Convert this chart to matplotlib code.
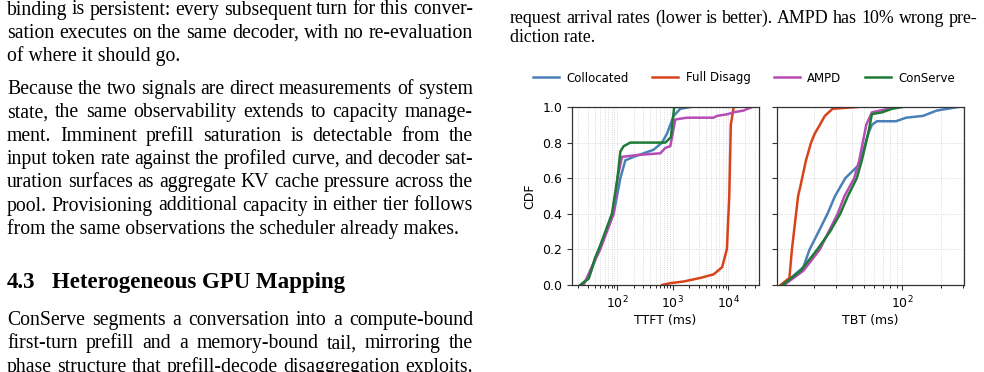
import numpy as np
import matplotlib
matplotlib.use("Agg")
import matplotlib.pyplot as plt
from matplotlib.transforms import IdentityTransform
from matplotlib.ticker import NullFormatter, LogLocator

W, H = 984, 372

# ---- CDF data (latency in ms, cumulative fraction) ----
systems = ["Collocated", "Full Disagg", "AMPD", "ConServe"]
colors = ["#4a80b9", "#d8431c", "#b64cb4", "#1e7b36"]

ttft_collocated_ms = [22, 31, 47, 87, 115, 141, 200, 302, 457, 646, 794, 912, 1047, 1380, 2089]
ttft_collocated_cdf = [0, 0.04, 0.2, 0.4, 0.6, 0.7, 0.72, 0.74, 0.76, 0.8, 0.85, 0.9, 0.95, 0.99, 1.0]
ttft_fulldisagg_ms = [650, 900, 1600, 3200, 5500, 7800, 9500, 10500, 11200, 12600]
ttft_fulldisagg_cdf = [0, 0.01, 0.02, 0.04, 0.06, 0.1, 0.2, 0.5, 0.9, 1.0]
ttft_ampd_ms = [25, 35, 50, 87, 102, 123, 229, 603, 741, 912, 1122, 1820, 5500, 6310, 10000, 12300, 19000, 27000]
ttft_ampd_cdf = [0, 0.1, 0.2, 0.4, 0.6, 0.72, 0.73, 0.74, 0.77, 0.78, 0.93, 0.94, 0.94, 0.95, 0.96, 0.97, 0.98, 1.0]
ttft_conserve_ms = [22, 31, 40, 47, 81, 102, 115, 132, 174, 741, 933, 1072, 1500]
ttft_conserve_cdf = [0, 0.036, 0.15, 0.2, 0.4, 0.6, 0.75, 0.78, 0.8, 0.8, 0.83, 1.0, 1.0]

tbt_collocated_ms = [11.4, 16.6, 18.6, 21.9, 25.7, 29.5, 35.5, 44.7, 49, 53.7, 57.5, 63, 89, 107, 145, 186, 275]
tbt_collocated_cdf = [0, 0.1, 0.2, 0.3, 0.4, 0.5, 0.6, 0.67, 0.75, 0.85, 0.9, 0.92, 0.92, 0.94, 0.95, 0.98, 1.0]
tbt_fulldisagg_ms = [11, 12.9, 13.5, 15.1, 15.8, 17.4, 19.1, 20.4, 22.4, 24.5, 28.2, 44.7]
tbt_fulldisagg_cdf = [0, 0.04, 0.2, 0.5, 0.56, 0.7, 0.8, 0.85, 0.9, 0.95, 0.99, 1.0]
tbt_ampd_ms = [11.7, 16.6, 22.4, 26.3, 30.9, 35, 41.7, 45.7, 51.9, 57.5, 77.6, 89]
tbt_ampd_cdf = [0, 0.08, 0.2, 0.3, 0.4, 0.5, 0.6, 0.7, 0.9, 0.97, 0.99, 1.0]
tbt_conserve_ms = [11.4, 15.8, 21.4, 26.9, 32.4, 37.2, 43.7, 47.9, 53.7, 57.5, 69, 83, 100]
tbt_conserve_cdf = [0, 0.08, 0.2, 0.3, 0.4, 0.5, 0.6, 0.7, 0.85, 0.96, 0.97, 0.99, 1.0]

ttft = [(ttft_collocated_ms, ttft_collocated_cdf), (ttft_fulldisagg_ms, ttft_fulldisagg_cdf),
        (ttft_ampd_ms, ttft_ampd_cdf), (ttft_conserve_ms, ttft_conserve_cdf)]
tbt = [(tbt_collocated_ms, tbt_collocated_cdf), (tbt_fulldisagg_ms, tbt_fulldisagg_cdf),
       (tbt_ampd_ms, tbt_ampd_cdf), (tbt_conserve_ms, tbt_conserve_cdf)]

# ---- surrounding paper text ----
para1 = ["binding is persistent: every subsequent turn for this conver-",
         "sation executes on the same decoder, with no re-evaluation",
         "of where it should go."]
para2 = ["Because the two signals are direct measurements of system",
         "state, the same observability extends to capacity manage-",
         "ment.  Imminent prefill saturation is detectable from the",
         "input token rate against the profiled curve, and decoder sat-",
         "uration surfaces as aggregate KV cache pressure across the",
         "pool. Provisioning additional capacity in either tier follows",
         "from the same observations the scheduler already makes."]
heading_num = "4.3"
heading = "Heterogeneous GPU Mapping"
para3 = ["ConServe segments a conversation into a compute-bound",
         "first-turn prefill and a memory-bound tail, mirroring the",
         "phase structure that prefill-decode disaggregation exploits."]
caption = ["request arrival rates (lower is better).  AMPD has 10% wrong pre-",
           "diction rate."]

fig = plt.figure(figsize=(W / 100, H / 100), dpi=100)
renderer = fig.canvas.get_renderer()
SERIF = "Liberation Serif"


def put_line(line, x0, x1, y_top, size, justify=True, **kw):
    """Place one line of text in pixel coords (y measured from the top)."""
    y = H - y_top
    if not justify:
        fig.text(x0, y, line, transform=IdentityTransform(), family=SERIF,
                 fontsize=size, va="baseline", ha="left", **kw)
        return
    words = line.split()
    texts = [fig.text(0, y, w, transform=IdentityTransform(), family=SERIF,
                      fontsize=size, va="baseline", ha="left", **kw) for w in words]
    widths = [t.get_window_extent(renderer).width for t in texts]
    gap = (x1 - x0 - sum(widths)) / max(len(words) - 1, 1)
    x = x0
    for t, w in zip(texts, widths):
        t.set_x(x)
        x += w + gap


def put_par(lines, x0, x1, y_first, skip, size, last_full=False):
    for i, line in enumerate(lines):
        last = i == len(lines) - 1
        put_line(line, x0, x1, y_first + i * skip, size, justify=(not last) or last_full)


BODY = 14.2
put_par(para1, 7, 473, 14.5, 23.3, BODY)
put_par(para2, 7, 473, 94, 23.3, BODY)
fig.text(7, H - 288, heading_num, transform=IdentityTransform(), family=SERIF,
         fontsize=16.5, weight="bold", va="baseline")
fig.text(52, H - 288, heading, transform=IdentityTransform(), family=SERIF,
         fontsize=16.5, weight="bold", va="baseline")
put_par(para3, 7, 473, 325, 23.3, BODY, last_full=True)
put_par(caption, 510, 977, 23, 19.3, 12.9)

# ---- the two CDF panels ----
bottom = (H - 285) / H
height = 178 / H
ax1 = fig.add_axes([572 / W, bottom, 187 / W, height])
ax2 = fig.add_axes([777 / W, bottom, 187 / W, height], sharey=ax1)

for ax, data in ((ax1, ttft), (ax2, tbt)):
    for name, c, (xs, ys) in zip(systems, colors, data):
        ax.plot(xs, ys, color=c, lw=1.8, label=name)
    ax.set_xscale("log")
    ax.grid(True, which="both", ls=":", lw=0.6, color="#cfcfcf")
    ax.xaxis.set_minor_locator(LogLocator(base=10, subs=np.arange(2, 10), numticks=20))
    ax.xaxis.set_minor_formatter(NullFormatter())
    ax.tick_params(labelsize=9, width=0.8, length=3.5, color="#333333")
    ax.tick_params(which="minor", length=2, width=0.6)
    for s in ax.spines.values():
        s.set_color("#333333")
        s.set_linewidth(0.9)

ax1.set_xlim(15.5, 36000)
ax2.set_xlim(10.3, 305)
ax1.set_ylim(0, 1)
ax1.set_yticks([0, 0.2, 0.4, 0.6, 0.8, 1.0])
ax1.set_ylabel("CDF", fontsize=9, labelpad=4)
ax1.set_xlabel("TTFT (ms)", fontsize=9, labelpad=2)
ax2.set_xlabel("TBT (ms)", fontsize=9, labelpad=2)
plt.setp(ax2.get_yticklabels(), visible=False)

handles, labels = ax1.get_legend_handles_labels()
fig.legend(handles, labels, loc="center", bbox_to_anchor=(744 / W, (H - 78) / H),
           ncol=4, frameon=False, fontsize=8.5, handlelength=2.2,
           columnspacing=1.95, handletextpad=0.65)

fig.savefig("out.png", dpi=100)
